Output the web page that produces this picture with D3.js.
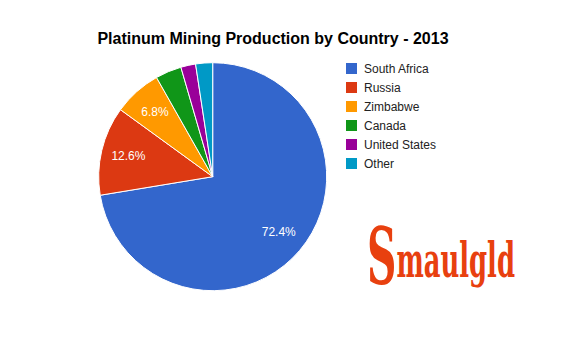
<!DOCTYPE html>
<html><head><meta charset="utf-8">
<script src="https://cdn.jsdelivr.net/npm/d3@7"></script>
<style>body{margin:0;background:#fff}svg{display:block}</style>
</head><body>
<script>
const countries = ["South Africa","Russia","Zimbabwe","Canada","United States","Other"];
const shares = [72.4, 12.6, 6.8, 3.7, 2.1, 2.4];
const colors = ["#3366cc","#dc3912","#ff9900","#109618","#990099","#0099c6"];
const title = "Platinum Mining Production by Country - 2013";

const W = 581, H = 345;
const svg = d3.select("body").append("svg").attr("width", W).attr("height", H);
svg.append("rect").attr("width", W).attr("height", H).attr("fill", "#fff");

svg.append("text").attr("x", 273).attr("y", 44).attr("text-anchor", "middle")
  .attr("font-family", "Arial, 'Liberation Sans', sans-serif").attr("font-weight", "bold")
  .attr("font-size", 16).attr("fill", "#000").text(title);

const cx = 212.7, cy = 176.7, r = 114;
const data = countries.map((c, i) => ({name: c, value: shares[i], color: colors[i]}));
const pie = d3.pie().value(d => d.value).sort(null);
const arc = d3.arc().innerRadius(0).outerRadius(r);
const labelArc = d3.arc().innerRadius(r * 0.76).outerRadius(r * 0.76);
const g = svg.append("g").attr("transform", `translate(${cx},${cy})`);
const arcs = pie(data);
g.selectAll("path").data(arcs).join("path")
  .attr("d", arc).attr("fill", d => d.data.color)
  .attr("stroke", "#fff").attr("stroke-width", 1);
const fmt = d3.format(".1f");
g.selectAll("text").data(arcs.filter(d => d.data.value > 5)).join("text")
  .attr("transform", d => `translate(${labelArc.centroid(d)})`)
  .attr("text-anchor", "middle").attr("dy", "0.3em")
  .attr("font-family", "Arial, 'Liberation Sans', sans-serif").attr("font-size", 12)
  .attr("fill", "#fff").text(d => fmt(d.data.value) + "%");

const leg = svg.append("g").attr("transform", "translate(346,62)");
const rows = leg.selectAll("g").data(data).join("g")
  .attr("transform", (d, i) => `translate(0,${i * 19})`);
rows.append("rect").attr("width", 11).attr("height", 11).attr("y", 1).attr("fill", d => d.color);
rows.append("text").attr("x", 18).attr("y", 10.5)
  .attr("font-family", "Arial, 'Liberation Sans', sans-serif").attr("font-size", 12)
  .attr("fill", "#222").text(d => d.name);

// logo: one text, S larger, then fitted into its box
const logoG = svg.append("g");
const inner = logoG.append("g");
const lt = inner.append("text").attr("x", 0).attr("y", 0)
  .attr("font-family", "'DejaVu Serif Condensed', 'DejaVu Serif', serif").attr("font-weight", "bold")
  .attr("fill", "#e8400f");
lt.append("tspan").attr("font-size", 82).attr("dy", 7).text("S");
lt.append("tspan").attr("font-size", 52).attr("dy", -7).text("maulgld");
const bb = lt.node().getBBox();
const tx0 = 367, tx1 = 515;
const sx = (tx1 - tx0) / bb.width;
const sy = 0.95;
inner.attr("transform", `translate(${tx0 - bb.x * sx},${277}) scale(${sx},${sy})`);
</script>
</body></html>
